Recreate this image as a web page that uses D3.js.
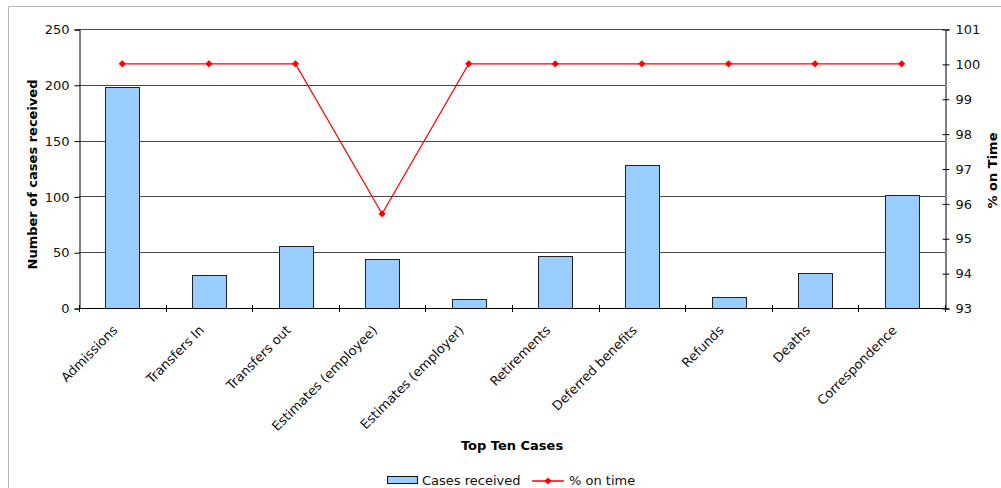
<!DOCTYPE html>
<html>
<head>
<meta charset="utf-8">
<script src="https://cdn.jsdelivr.net/npm/d3@7"></script>
<style>
  html, body { margin: 0; padding: 0; background: #fff; }
  svg { display: block; font-family: "DejaVu Sans", Verdana, sans-serif; }
</style>
</head>
<body>
<svg id="chart" width="1001" height="488"></svg>
<script>
const categories = ["Admissions", "Transfers In", "Transfers out", "Estimates (employee)", "Estimates (employer)", "Retirements", "Deferred benefits", "Refunds", "Deaths", "Correspondence"];
const casesReceived = [198, 30, 56, 44, 8, 47, 128, 10, 31, 101];
const onTimePct = [100, 100, 100, 95.7, 100, 100, 100, 100, 100, 100];
const leftTicks = [0, 50, 100, 150, 200, 250];
const rightTicks = [93, 94, 95, 96, 97, 98, 99, 100, 101];
const seriesNames = ["Cases received", "% on time"];

const svg = d3.select("#chart");
const L = 79, R = 945, T = 29, B = 308;

// outer chart border
svg.append("path").attr("d", "M8.5,488 L8.5,6.5 L1001,6.5")
  .attr("fill", "none").attr("stroke", "#b4b4b4").attr("stroke-width", 1);

const x = d3.scaleBand().domain(categories).range([L, R]).padding(0);
const yL = d3.scaleLinear().domain([0, 250]).range([B, T]);
const yR = d3.scaleLinear().domain([93, 101]).range([B, T]);

// gridlines
svg.append("g").selectAll("line").data(leftTicks.filter(d => d > 0)).join("line")
  .attr("x1", L).attr("x2", R)
  .attr("y1", d => Math.round(yL(d)) + 0.5).attr("y2", d => Math.round(yL(d)) + 0.5)
  .attr("stroke", "#454545").attr("stroke-width", 1);

// bars
const bw = x.bandwidth() * 0.39;
svg.append("g").selectAll("rect").data(casesReceived).join("rect")
  .attr("x", (d, i) => Math.round(x(categories[i]) + x.bandwidth() / 2 - bw / 2) + 0.5)
  .attr("y", d => Math.round(yL(d)) + 0.5)
  .attr("width", Math.round(bw))
  .attr("height", d => B - Math.round(yL(d)))
  .attr("fill", "#99ccff").attr("stroke", "#222").attr("stroke-width", 1);

// left axis
const axL = svg.append("g").attr("transform", `translate(${L + 0.5},0.5)`)
  .call(d3.axisLeft(yL).tickValues(leftTicks).tickSize(5).tickPadding(5));
// right axis
const axR = svg.append("g").attr("transform", `translate(${R + 0.5},0.5)`)
  .call(d3.axisRight(yR).tickValues(rightTicks).tickSize(4).tickPadding(6));
axR.selectAll(".tick line").attr("x1", -3);
[axL, axR].forEach(a => {
  a.select(".domain").attr("stroke", "#000");
  a.selectAll(".tick line").attr("stroke", "#000");
  a.selectAll("text").attr("font-size", "13px").attr("fill", "#111")
    .attr("font-family", "'DejaVu Sans', Verdana, sans-serif");
});

// bottom axis line and cross ticks at category boundaries
svg.append("line").attr("x1", L).attr("x2", R + 1).attr("y1", B + 0.5).attr("y2", B + 0.5)
  .attr("stroke", "#000");
const boundaries = categories.map(c => x(c)).concat([R]);
svg.append("g").selectAll("line").data(boundaries).join("line")
  .attr("x1", d => Math.round(d) + 0.5).attr("x2", d => Math.round(d) + 0.5)
  .attr("y1", B - 3).attr("y2", B + 4).attr("stroke", "#000");

// category labels
svg.append("g").selectAll("text").data(categories).join("text")
  .attr("transform", d => `translate(${x(d) + x.bandwidth() / 2 - 4},331) rotate(-45)`)
  .attr("text-anchor", "end").attr("font-size", "13px").attr("fill", "#111")
  .text(d => d);

// line series
const cx = i => x(categories[i]) + x.bandwidth() / 2;
const line = d3.line().x((d, i) => cx(i)).y(d => yR(d));
svg.append("path").datum(onTimePct).attr("d", line)
  .attr("fill", "none").attr("stroke", "#ff0000").attr("stroke-width", 1.2);
svg.append("g").selectAll("path").data(onTimePct).join("path")
  .attr("d", d3.symbol(d3.symbolSquare, 26)())
  .attr("transform", (d, i) => `translate(${cx(i)},${yR(d)}) rotate(45)`)
  .attr("fill", "#ff0000");

// axis titles
svg.append("text").attr("transform", `translate(37,${(T + B) / 2 + 6}) rotate(-90)`)
  .attr("text-anchor", "middle").attr("font-size", "13px").attr("font-weight", "bold")
  .text("Number of cases received");
svg.append("text").attr("transform", `translate(997,${(T + B) / 2 + 2}) rotate(-90)`)
  .attr("text-anchor", "middle").attr("font-size", "13px").attr("font-weight", "bold")
  .text("% on Time");
svg.append("text").attr("x", (L + R) / 2).attr("y", 450)
  .attr("text-anchor", "middle").attr("font-size", "13px").attr("font-weight", "bold")
  .text("Top Ten Cases");

// legend
const lg = svg.append("g");
lg.append("rect").attr("x", 387.5).attr("y", 476.5).attr("width", 30).attr("height", 7)
  .attr("fill", "#99ccff").attr("stroke", "#111");
lg.append("text").attr("x", 422).attr("y", 485).attr("font-size", "13px").attr("fill", "#111")
  .text(seriesNames[0]);
lg.append("line").attr("x1", 532).attr("x2", 564).attr("y1", 481).attr("y2", 481)
  .attr("stroke", "#ff0000").attr("stroke-width", 1.5);
lg.append("path").attr("d", d3.symbol(d3.symbolSquare, 26)())
  .attr("transform", "translate(548,481) rotate(45)").attr("fill", "#ff0000");
lg.append("text").attr("x", 569).attr("y", 485).attr("font-size", "13px").attr("fill", "#111")
  .text(seriesNames[1]);
</script>
</body>
</html>
